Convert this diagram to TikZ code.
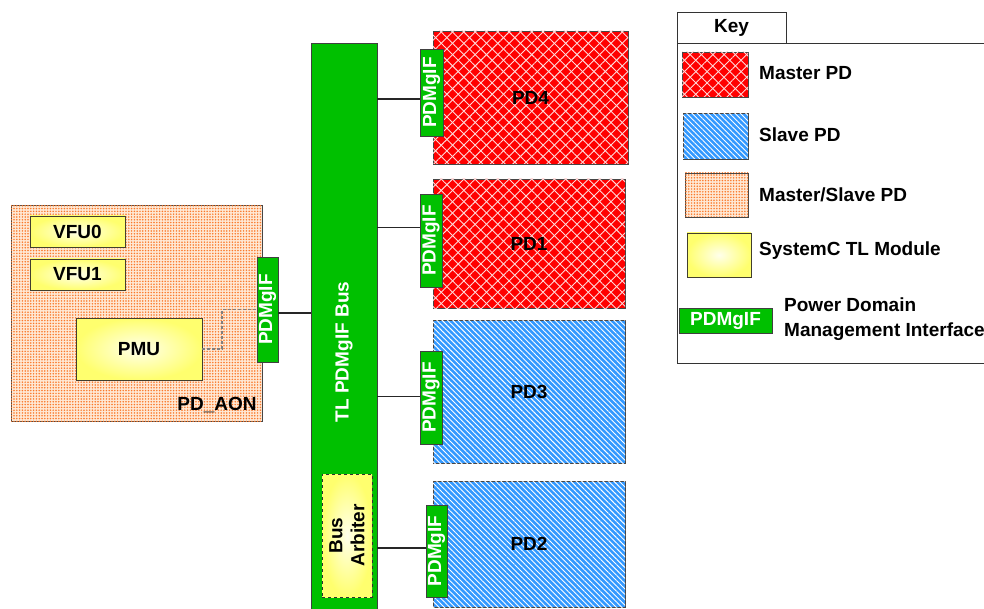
\documentclass[tikz,border=0pt]{standalone}
\usepackage{fontspec}
\setmainfont{Liberation Sans}
\usetikzlibrary{patterns.meta}
\definecolor{bgreen}{RGB}{0,192,0}
\definecolor{slaveblue}{RGB}{51,153,255}
\definecolor{peach}{RGB}{255,232,212}
\definecolor{dotorange}{RGB}{250,120,40}
\definecolor{edgegray}{RGB}{70,70,70}
\definecolor{yinner}{RGB}{255,255,235}
\definecolor{youter}{RGB}{255,255,110}
\begin{document}
\begin{tikzpicture}[x=1pt,y=-1pt,
  every node/.style={font=\fontsize{19}{23}\selectfont\bfseries},
  rect/.style={anchor=north west,inner sep=0pt,outer sep=0pt,draw=edgegray,line width=0.8pt},
  master/.style={rect,fill=red,
    postaction={pattern={Lines[angle=45,distance=8pt,line width=0.9pt]},pattern color=white!85!red},
    postaction={pattern={Lines[angle=-45,distance=8pt,line width=0.9pt]},pattern color=white!85!red}},
  slave/.style={rect,fill=slaveblue,
    postaction={pattern={Lines[angle=-45,distance=3.8pt,line width=0.9pt]},pattern color=white}},
  msl/.style={rect,fill=peach,
    postaction={pattern={Dots[distance=2.8pt,radius=0.85pt]},pattern color=dotorange}},
  module/.style={rect,inner color=yinner,outer color=youter,draw=black!70!olive},
  ifbox/.style={rect,fill=bgreen,draw=black!75},
  iftext/.style={text=white,rotate=90,inner sep=0pt},
  conn/.style={line width=1.6pt,draw=black!85},
]
\clip (0,0) rectangle (984,609);
\fill[white] (0,0) rectangle (984,609);

% PD_AON
\node[msl,minimum width=251pt,minimum height=216pt] (aon) at (11,205) {};
\node (aonlbl) at (217,405) {PD\_AON};
\node[module,minimum width=95pt,minimum height=31pt] (vfu0) at (30,216) {};
\node (vfu0t) at (vfu0.center) {VFU0};
\node[module,minimum width=95pt,minimum height=31pt] (vfu1) at (30,259) {};
\node (vfu1t) at (vfu1.center) {VFU1};
\node[module,minimum width=126pt,minimum height=62pt] (pmu) at (76,318) {};
\node (pmut) at (pmu.center) {PMU};
\node[ifbox,minimum width=21pt,minimum height=105pt] (ifaon) at (257,257) {};
\node[iftext] (ifaont) at (ifaon.center) {PDMgIF};
\draw[densely dashed,line width=1.5pt,draw=gray] (pmu.east) -- ++(20,0) |- (ifaon.west);

% Bus
\node[ifbox,minimum width=66pt,minimum height=580pt] (bus) at (311,43) {};
\node[iftext] (bust) at (344,352) {TL PDMgIF Bus};
\node[module,dashed,minimum width=50pt,minimum height=123pt,draw=black!80] (arb) at (322,474) {};
\node[rotate=90,align=center,inner sep=0pt,font=\fontsize{19}{22}\selectfont\bfseries] (arbt) at (arb.center) {Bus\\Arbiter};

% Power domains
\node[master,minimum width=195pt,minimum height=133pt] (pd4) at (433,31) {};
\node (pd4t) at (pd4.center) {PD4};
\node[ifbox,minimum width=23pt,minimum height=87pt] (if4) at (420,49) {};
\node[iftext] (if4t) at (if4.center) {PDMgIF};

\node[master,minimum width=192pt,minimum height=129pt] (pd1) at (433,179) {};
\node (pd1t) at (pd1.center) {PD1};
\node[ifbox,minimum width=22pt,minimum height=93pt] (if1) at (420,194) {};
\node[iftext] (if1t) at (if1.center) {PDMgIF};

\node[slave,minimum width=192pt,minimum height=143pt] (pd3) at (433,320) {};
\node (pd3t) at (pd3.center) {PD3};
\node[ifbox,minimum width=22pt,minimum height=93pt] (if3) at (420,351) {};
\node[iftext] (if3t) at (if3.center) {PDMgIF};

\node[slave,minimum width=192pt,minimum height=126pt] (pd2) at (433,481) {};
\node (pd2t) at (pd2.center) {PD2};
\node[ifbox,minimum width=21pt,minimum height=92pt] (if2) at (426,505) {};
\node[iftext] (if2t) at (if2.center) {PDMgIF};

% connectors
\draw[conn] ([yshift=-3.5pt]ifaon.east) -- ([yshift=-3.5pt]bus.west |- ifaon.east);
\draw[conn] ([yshift=-6.5pt]bus.east |- if4.west) -- ([yshift=-6.5pt]if4.west);
\draw[conn] ([yshift=13pt]bus.east |- if1.west) -- ([yshift=13pt]if1.west);
\draw[conn] ([yshift=1pt]bus.east |- if3.west) -- ([yshift=1pt]if3.west);
\draw[conn] ([yshift=3pt]bus.east |- if2.west) -- ([yshift=3pt]if2.west);

% Key
\node[rect,draw=black!80,fill=white,minimum width=330pt,minimum height=320pt] (key) at (677,43) {};
\node[rect,draw=black!80,fill=white,minimum width=109pt,minimum height=31pt] (keytab) at (677,12) {};
\node (keyt) at (keytab.center) {Key};

\node[master,minimum width=66pt,minimum height=45pt] (kmaster) at (682,52) {};
\node[anchor=west,inner sep=0pt] (kmastert) at (759,73) {Master PD};
\node[slave,minimum width=65pt,minimum height=46pt] (kslave) at (683,113) {};
\node[anchor=west,inner sep=0pt] (kslavet) at (759,135) {Slave PD};
\node[msl,minimum width=63pt,minimum height=44pt] (kms) at (685,173) {};
\node[anchor=west,inner sep=0pt] (kmst) at (759,195) {Master/Slave PD};
\node[module,minimum width=64pt,minimum height=44pt] (kmod) at (687,233) {};
\node[anchor=west,inner sep=0pt] (kmodt) at (759,251) {SystemC TL Module};
\node[ifbox,minimum width=93pt,minimum height=25pt] (kif) at (679,308) {};
\node[text=white,inner sep=0pt] (kift) at (kif.center) {PDMgIF};
\node[anchor=west,align=left,inner sep=0pt,font=\fontsize{19}{25}\selectfont\bfseries] (kift2) at (784,319) {Power Domain\\Management Interface};
\end{tikzpicture}
\end{document}
